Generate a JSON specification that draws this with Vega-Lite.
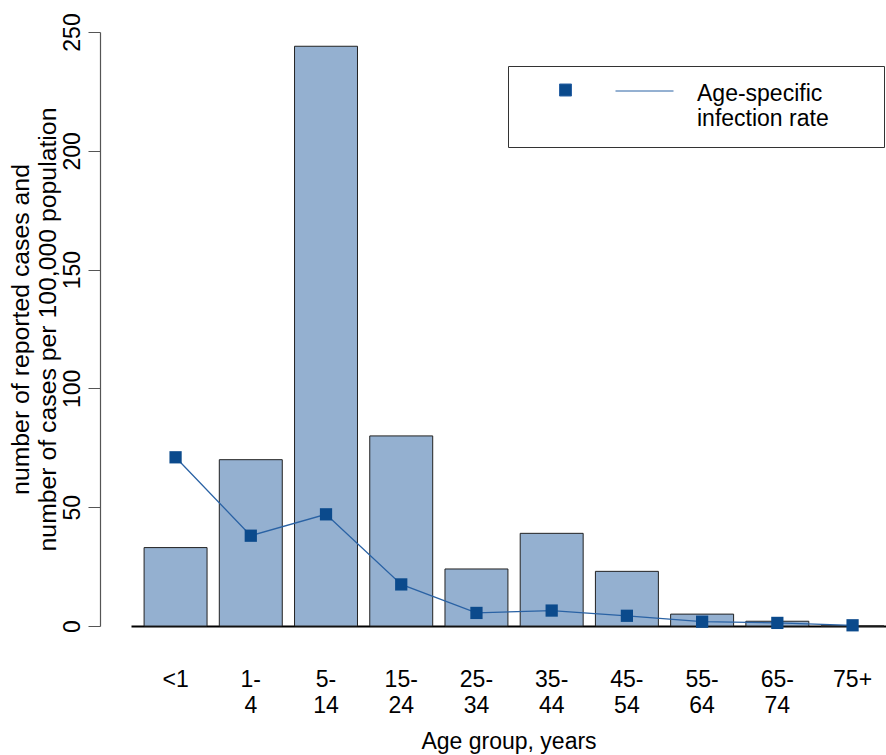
{
  "$schema": "https://vega.github.io/schema/vega-lite/v6.json",
  "width": 755,
  "height": 594,
  "autosize": {"type": "none"},
  "padding": {"left": 131, "top": 32, "right": 0, "bottom": 129},
  "config": {"view": {"stroke": null}, "font": "Liberation Sans"},
  "data": {
    "values": [
      {"age": "<1", "cases": 33, "rate": 71},
      {"age": "1-4", "cases": 70, "rate": 38},
      {"age": "5-14", "cases": 244, "rate": 47},
      {"age": "15-24", "cases": 80, "rate": 17.5},
      {"age": "25-34", "cases": 24, "rate": 5.5},
      {"age": "35-44", "cases": 39, "rate": 6.5},
      {"age": "45-54", "cases": 23, "rate": 4.3},
      {"age": "55-64", "cases": 5, "rate": 1.8},
      {"age": "65-74", "cases": 2, "rate": 1.3},
      {"age": "75+", "cases": 0, "rate": 0.3}
    ]
  },
  "encoding": {
    "x": {
      "field": "age",
      "type": "nominal",
      "sort": null,
      "scale": {"paddingInner": 0.163, "paddingOuter": 0.1, "align": 0.87},
      "axis": {
        "title": "Age group, years",
        "titleFontSize": 23,
        "titleFontWeight": "normal",
        "titleColor": "#000",
        "titlePadding": 13,
        "labelFontSize": 23,
        "labelColor": "#000",
        "labelAngle": 0,
        "labelPadding": 42,
        "labelLineHeight": 26,
        "labelBaseline": "top",
        "ticks": false,
        "domainColor": "#000",
        "domainWidth": 2,
        "labelExpr": "indexof(datum.label, '-') > 0 ? [split(datum.label, '-')[0] + '-', split(datum.label, '-')[1]] : datum.label"
      }
    },
    "y": {
      "type": "quantitative",
      "scale": {"domain": [0, 250], "nice": false},
      "title": ["number of reported cases and", "number of cases per 100,000 population"],
      "axis": {
        "offset": 31,
        "values": [0, 50, 100, 150, 200, 250],
        "grid": false,
        "labelAngle": -90,
        "labelFontSize": 23,
        "labelColor": "#000",
        "labelPadding": 4,
        "tickSize": 12,
        "tickColor": "#555",
        "domainColor": "#555",
        "domainWidth": 1.2,
        "titleFontSize": 24.8,
        "titleFontWeight": "normal",
        "titleColor": "#000",
        "titlePadding": 1,
        "titleLineHeight": 27
      }
    }
  },
  "layer": [
    {
      "mark": {"type": "bar", "fill": "#94b0d0", "stroke": "#222", "strokeWidth": 1},
      "encoding": {"y": {"field": "cases"}}
    },
    {
      "mark": {"type": "line", "color": "#2a62a4", "strokeWidth": 1.3},
      "encoding": {"y": {"field": "rate"}}
    },
    {
      "mark": {"type": "point", "shape": "square", "filled": true, "size": 150, "opacity": 1},
      "encoding": {
        "y": {"field": "rate"},
        "color": {
          "datum": "Age-specific infection rate",
          "scale": {"range": ["#0b4a8c"]},
          "legend": {
            "orient": "none",
            "legendX": 377,
            "legendY": 34,
            "title": null,
            "padding": 16,
            "strokeColor": "#333",
            "symbolType": "M 30 0 M -0.6 -0.95 H 0.6 V 0.25 H -0.6 Z M 5 -0.25 H 10.8",
            "symbolSize": 400,
            "symbolOffset": 30,
            "symbolFillColor": "#0b4a8c",
            "symbolStrokeColor": "#2a62a4",
            "symbolStrokeWidth": 1,
            "labelFontSize": 23,
            "labelColor": "#000",
            "labelOffset": 120,
            "labelLineHeight": 27,
            "labelLimit": 400,
            "labelExpr": "['Age-specific', 'infection rate']"
          }
        }
      }
    }
  ]
}
